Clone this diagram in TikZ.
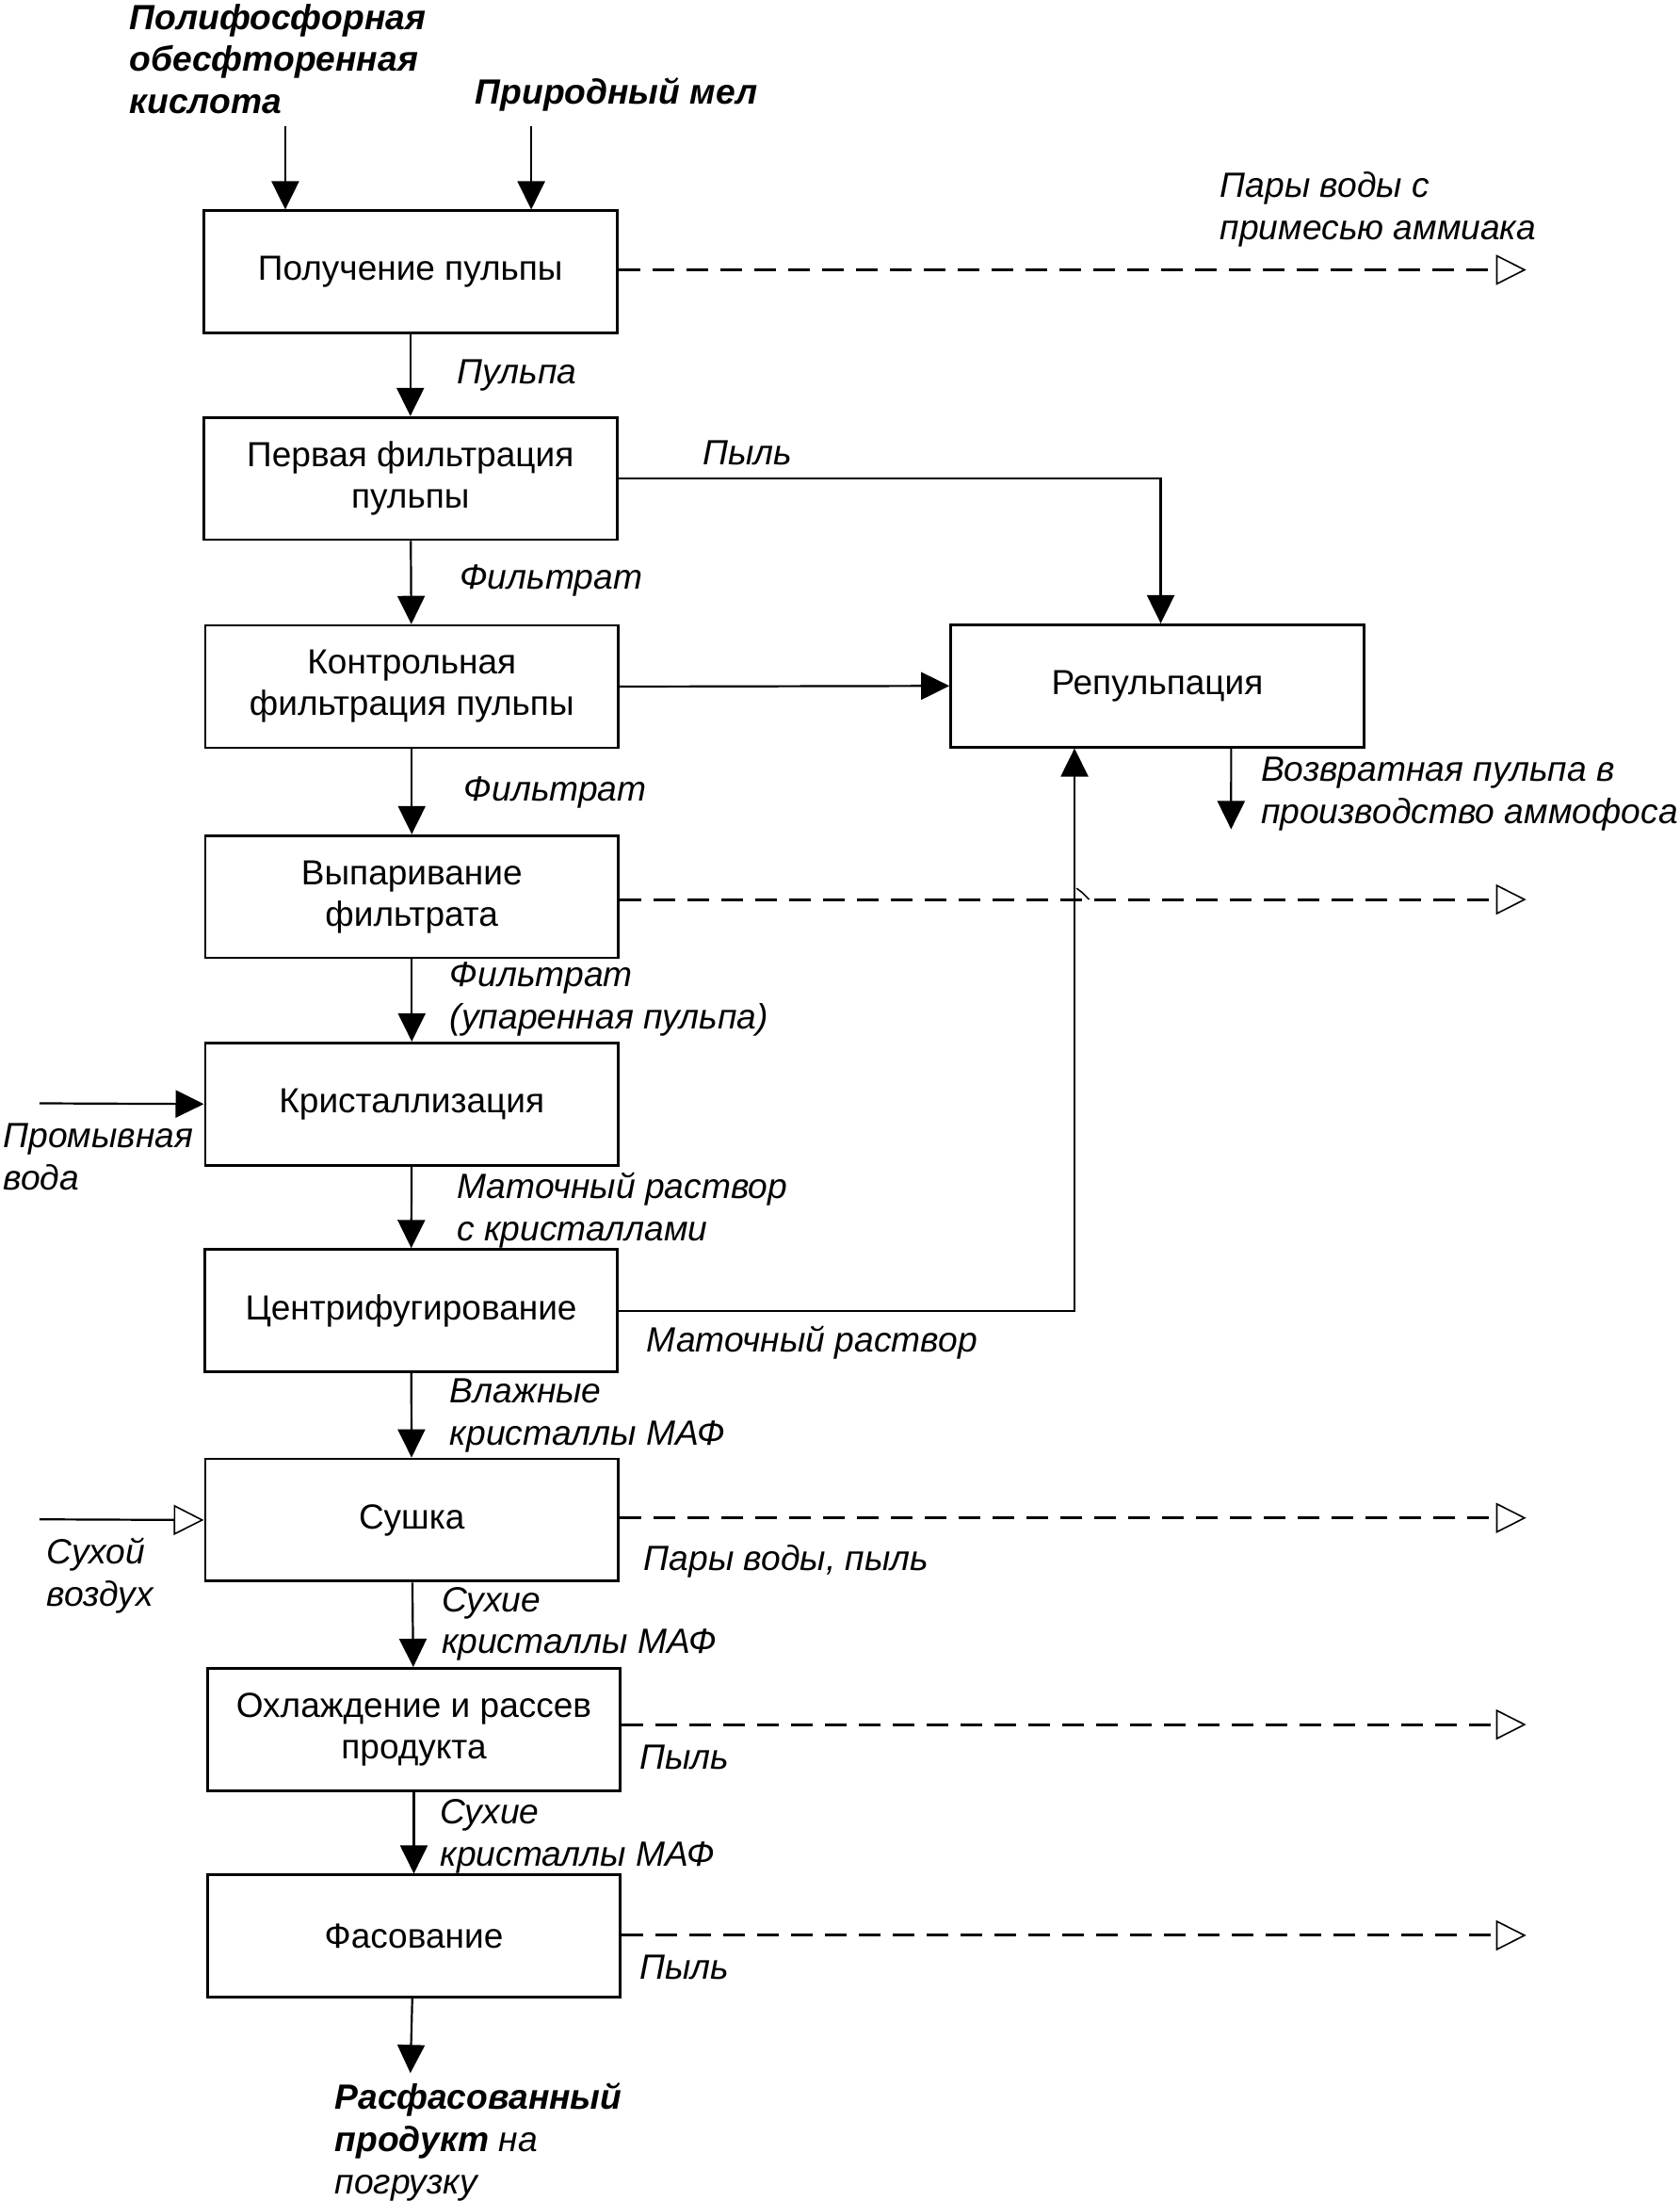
\documentclass[tikz,border=0pt]{standalone}
\usepackage{fontspec}
\setmainfont{Liberation Sans}
\usetikzlibrary{arrows.meta}
\begin{document}
\begin{tikzpicture}[x=0.746pt,y=-0.746pt,
  procbox/.style={draw, line width=1.4pt, minimum width=219.3pt, minimum height=64.9pt, align=center, inner sep=0pt, font=\fontsize{18.5}{22}\selectfont},
  lbl/.style={anchor=west, align=left, inner sep=0pt, font=\fontsize{18.6}{22.4}\selectfont\itshape},
  blbl/.style={lbl, font=\fontsize{18.6}{22.4}\selectfont\bfseries\itshape},
  flow/.style={line width=1.1pt, -{Triangle[length=15pt,width=14.5pt]}},
  waste/.style={line width=1.5pt, dash pattern=on 11.5pt off 6.5pt, -{Triangle[open,length=16pt,width=16pt,line width=0.8pt]}},
  ]
\useasboundingbox (0,0) rectangle (1195,1566);

% process boxes
\node[procbox] (b1) at (292,193.5) {Получение пульпы};
\node[procbox] (b2) at (292,340.5) {Первая фильтрация\\пульпы};
\node[procbox] (b3) at (293,488.5) {Контрольная\\фильтрация пульпы};
\node[procbox] (b4) at (293,638) {Выпаривание\\фильтрата};
\node[procbox] (b5) at (293,785.5) {Кристаллизация};
\node[procbox] (b6) at (292.5,932.5) {Центрифугирование};
\node[procbox] (b7) at (293,1081.5) {Сушка};
\node[procbox] (b8) at (294.5,1230.5) {Охлаждение и рассев\\продукта};
\node[procbox] (b9) at (294.5,1377.5) {Фасование};
\node[procbox] (rep) at (823.5,488) {Репульпация};

% free ends
\coordinate (i1) at (203,90);
\coordinate (i2) at (378,90);
\coordinate (o1) at (1086,192);
\coordinate (o4) at (1086,640);
\coordinate (o7) at (1086,1080);
\coordinate (o8) at (1086,1227);
\coordinate (o9) at (1086,1377);
\coordinate (w1) at (28,785);
\coordinate (a1) at (28,1081);
\coordinate (fin) at (292,1475);
\coordinate (repin) at ([xshift=66.4pt]rep.south west);
\coordinate (repout) at ([xshift=39.2pt]rep.south);
\coordinate (ret) at (876,590);

% labels
\node[blbl] (t1) at (92,42) {Полифосфорная\\обесфторенная\\кислота};
\node[blbl] (t2) at (338,67) {Природный мел};
\node[lbl] (l1) at (868,149) {Пары воды с\\примесью аммиака};
\node[lbl] (l2) at (325,267) {Пульпа};
\node[lbl] (l3) at (500,322) {Пыль};
\node[lbl] (l4) at (327,413) {Фильтрат};
\node[lbl] (l5) at (330,564) {Фильтрат};
\node[lbl] (l6) at (897,565) {Возвратная пульпа в\\производство аммофоса};
\node[lbl] (l7) at (320,711) {Фильтрат\\(упаренная пульпа)};
\node[lbl] (l8) at (2,823) {Промывная\\вода};
\node[lbl] (l9) at (325,861) {Маточный раствор\\с кристаллами};
\node[lbl] (l10) at (460,955) {Маточный раствор};
\node[lbl] (l11) at (320,1007) {Влажные\\кристаллы МАФ};
\node[lbl] (l12) at (33,1121) {Сухой\\воздух};
\node[lbl] (l13) at (458,1111) {Пары воды, пыль};
\node[lbl] (l14) at (314,1155.5) {Сухие\\кристаллы МАФ};
\node[lbl] (l15) at (455,1250) {Пыль};
\node[lbl] (l16) at (313,1306.5) {Сухие\\кристаллы МАФ};
\node[lbl] (l17) at (455,1400) {Пыль};
\node[lbl] (l18) at (238,1524) {\bfseries Расфасованный\\\bfseries продукт\mdseries{} на\\погрузку};

% inputs
\draw[flow] (i1) -- (i1 |- b1.north);
\draw[flow] (i2) -- (i2 |- b1.north);
\draw[flow] (w1) -- (b5.west);
\draw[line width=1.1pt, -{Triangle[open,length=16pt,width=16pt,line width=0.8pt]}] (a1) -- (b7.west);

% main chain
\draw[flow] (b1) -- (b2);
\draw[flow] (b2) -- (b3);
\draw[flow] (b3) -- (b4);
\draw[flow] (b4) -- (b5);
\draw[flow] (b5) -- (b6);
\draw[flow] (b6) -- (b7);
\draw[flow] (b7) -- (b8);
\draw[flow] (b8) -- (b9);
\draw[flow] (b9) -- (fin);

% repulping
\draw[flow] (b2.east) -| ([xshift=1.8pt]rep.north);
\draw[flow] (b3.east) -- (rep.west);
\draw[flow] (b6.east) -| (repin);
\draw[flow] (repout) -- (ret);

% waste streams
\draw[waste] (b1.east |- o1) -- (o1);
\draw[waste] (b4.east |- o4) -- (o4);
\draw[waste] (b7.east |- o7) -- (o7);
\draw[waste] (b8.east |- o8) -- (o8);
\draw[waste] (b9.east |- o9) -- (o9);

% crossing mark
\draw[line width=0.8pt] (766,632) -- (770,635) -- (775,640);
\end{tikzpicture}
\end{document}
